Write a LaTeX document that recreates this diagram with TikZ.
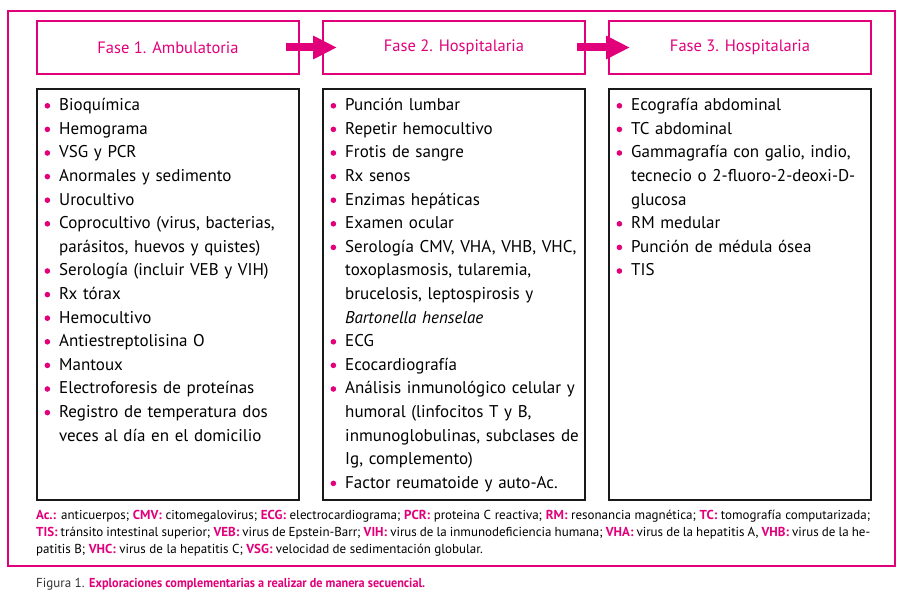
\documentclass[tikz,border=0pt]{standalone}
\usepackage{fontspec}
\setmainfont{PT Sans}
\usetikzlibrary{arrows.meta}
\definecolor{fucsia}{HTML}{E2007A}
\newcommand{\bul}{\tikz[baseline=0pt,x=1pt,y=1pt]\fill[fucsia] (0,5) circle (2.8);}
\newenvironment{lista}{\begin{list}{\bul}{\leftmargin=14pt \labelwidth=10pt \labelsep=9pt
  \itemsep=0pt \parsep=0pt \topsep=0pt \partopsep=0pt}}{\end{list}}
\newcommand{\ab}[1]{\textcolor{fucsia}{\bfseries #1}}
\begin{document}
\begin{tikzpicture}[x=1pt,y=-1pt,
    fase/.style={draw=fucsia,line width=2pt,minimum width=262pt,minimum height=53pt,
      anchor=north west,text=fucsia,font=\fontsize{16.5}{19}\selectfont},
    caja/.style={draw=black!90,line width=2pt,minimum width=262pt,minimum height=411pt,
      anchor=north west},
    items/.style={anchor=north west,inner sep=0pt,text width=252pt,align=left,
      font=\fontsize{17}{23.6}\selectfont},
    flecha/.style={draw=fucsia,line width=8pt,-{Triangle[length=24pt,width=22pt]}}]
\useasboundingbox (0,0) rectangle (903,599);
% marco
\draw[fucsia,line width=1.3pt] (8,11) rectangle (895,566);
% fases
\node[fase] (f1) at (36,20) {Fase 1. Ambulatoria};
\node[fase] (f2) at (322,20) {Fase 2. Hospitalaria};
\node[fase] (f3) at (608,20) {Fase 3. Hospitalaria};
\draw[flecha] ([xshift=-14pt]f1.east) -- ([xshift=15pt]f2.west);
\draw[flecha] ([xshift=-9pt]f2.east) -- ([xshift=22pt]f3.west);
% cajas
\node[caja] (c1) at (36,88) {};
\node[caja] (c2) at (322,88) {};
\node[caja] (c3) at (608,88) {};
\node[items] (l1) at ([xshift=9pt,yshift=1pt]c1.north west) {%
\begin{lista}
\item Bioquímica
\item Hemograma
\item VSG y PCR
\item Anormales y sedimento
\item Urocultivo
\item Coprocultivo (virus, bacterias,\\ parásitos, huevos y quistes)
\item Serología (incluir VEB y VIH)
\item Rx tórax
\item Hemocultivo
\item Antiestreptolisina O
\item Mantoux
\item Electroforesis de proteínas
\item Registro de temperatura dos\\ veces al día en el domicilio
\end{lista}};
\node[items] (l2) at ([xshift=9pt,yshift=1pt]c2.north west) {%
\begin{lista}
\item Punción lumbar
\item Repetir hemocultivo
\item Frotis de sangre
\item Rx senos
\item Enzimas hepáticas
\item Examen ocular
\item Serología CMV, VHA, VHB, VHC,\\ toxoplasmosis, tularemia,\\ brucelosis, leptospirosis y\\ \textit{Bartonella henselae}
\item ECG
\item Ecocardiografía
\item Análisis inmunológico celular y\\ humoral (linfocitos T y B,\\ inmunoglobulinas, subclases de\\ Ig, complemento)
\item Factor reumatoide y auto-Ac.
\end{lista}};
\node[items] (l3) at ([xshift=9pt,yshift=1pt]c3.north west) {%
\begin{lista}
\item Ecografía abdominal
\item TC abdominal
\item Gammagrafía con galio, indio,\\ tecnecio o 2-fluoro-2-deoxi-D-\\ glucosa
\item RM medular
\item Punción de médula ósea
\item TIS
\end{lista}};
% abreviaturas
\node[anchor=north west,inner sep=0pt,text width=834pt,align=justify,
  font=\fontsize{13}{17}\selectfont] (abr) at (36,510) {%
\ab{Ac.:} anticuerpos; \ab{CMV:} citomegalovirus; \ab{ECG:} electrocardiograma; \ab{PCR:} proteina C reactiva; \ab{RM:} resonancia magnética; \ab{TC:} tomografía computarizada;\linebreak
\ab{TIS:} tránsito intestinal superior; \ab{VEB:} virus de Epstein-Barr; \ab{VIH:} virus de la inmunodeficiencia humana; \ab{VHA:} virus de la hepatitis A, \ab{VHB:} virus de la he-\linebreak
patitis B; \ab{VHC:} virus de la hepatitis C; \ab{VSG:} velocidad de sedimentación globular.};
% pie
\node[anchor=west,inner sep=0pt,font=\fontsize{13}{15}\selectfont,text=black!80] (pie) at (36,584)
  {Figura 1. \textcolor{fucsia}{\bfseries\scalebox{0.94}[1]{Exploraciones complementarias a realizar de manera secuencial.}}};
\end{tikzpicture}
\end{document}
